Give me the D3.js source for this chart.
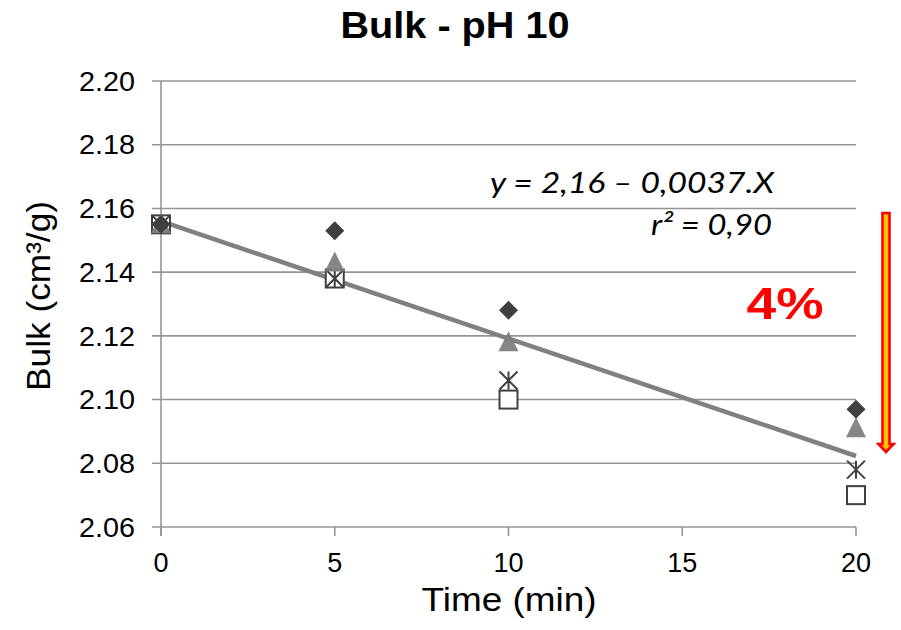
<!DOCTYPE html>
<html><head><meta charset="utf-8">
<script src="https://cdn.jsdelivr.net/npm/d3@7"></script>
<style>body{margin:0;background:#fff}svg{display:block}</style>
</head><body>
<svg id="c" width="901" height="630"></svg>
<script>
const times = [0, 5, 10, 20];
const seriesDiamond = [2.155, 2.153, 2.128, 2.097];
const seriesTriangle = [2.155, 2.143, 2.118, 2.091];
const seriesStar = [2.155, 2.138, 2.106, 2.078];
const seriesSquare = [2.155, 2.138, 2.100, 2.070];
const yTicks = [2.06, 2.08, 2.10, 2.12, 2.14, 2.16, 2.18, 2.20];
const xTicks = [0, 5, 10, 15, 20];
const titleText = "Bulk - pH 10";
const xLabel = "Time (min)";
const yLabel = "Bulk (cm³/g)";
const eqLine1 = "y = 2,16 – 0,0037.X";
const eqLine2 = "r² = 0,90";
const dropLabel = "4%";

const svg = d3.select("#c");
const L = 161, R = 856, T = 81, B = 527;
const x = d3.scaleLinear().domain([0, 20]).range([L, R]);
const y = d3.scaleLinear().domain([2.06, 2.20]).range([B, T]);
const grid = "#959595";
const sans = "Liberation Sans, Arial, sans-serif";

// gridlines
svg.append("g").selectAll("line").data(yTicks).join("line")
  .attr("x1", L - 9).attr("x2", R).attr("y1", d => y(d)).attr("y2", d => y(d))
  .attr("stroke", grid).attr("stroke-width", 1.6);
// y axis line
svg.append("line").attr("x1", L).attr("x2", L).attr("y1", T).attr("y2", B + 9)
  .attr("stroke", grid).attr("stroke-width", 1.6);
// x ticks
svg.append("g").selectAll("line").data(xTicks).join("line")
  .attr("x1", d => x(d)).attr("x2", d => x(d)).attr("y1", B).attr("y2", B + 9)
  .attr("stroke", grid).attr("stroke-width", 1.6);

// tick labels
svg.append("g").selectAll("text").data(yTicks).join("text")
  .attr("x", 135).attr("y", d => y(d)).attr("dy", "0.36em")
  .attr("text-anchor", "end").attr("font-family", sans)
  .attr("font-size", 27).attr("textLength", 56).attr("lengthAdjust", "spacingAndGlyphs")
  .attr("fill", "#000").text(d => d.toFixed(2));
svg.append("g").selectAll("text").data(xTicks).join("text")
  .attr("x", d => x(d)).attr("y", 572)
  .attr("text-anchor", "middle").attr("font-family", sans)
  .attr("font-size", 27).attr("fill", "#000").text(d => d);

// titles
svg.append("text").attr("x", 455).attr("y", 38).attr("text-anchor", "middle")
  .attr("font-family", sans).attr("font-weight", "bold")
  .attr("font-size", 37).attr("textLength", 229).attr("lengthAdjust", "spacingAndGlyphs").text(titleText);
svg.append("text").attr("x", 509).attr("y", 611).attr("text-anchor", "middle")
  .attr("font-family", sans)
  .attr("font-size", 33).attr("textLength", 175).attr("lengthAdjust", "spacingAndGlyphs").text(xLabel);
svg.append("text").attr("transform", "translate(50,296) rotate(-90)").attr("text-anchor", "middle")
  .attr("font-family", sans)
  .attr("font-size", 34).attr("textLength", 190).attr("lengthAdjust", "spacingAndGlyphs").text(yLabel);

// regression trendline from all points
const allPts = [];
[seriesDiamond, seriesTriangle, seriesStar, seriesSquare].forEach(s => s.forEach((v, i) => allPts.push([times[i], v])));
const mx = d3.mean(allPts, d => d[0]), my = d3.mean(allPts, d => d[1]);
const slope = d3.sum(allPts, d => (d[0] - mx) * (d[1] - my)) / d3.sum(allPts, d => (d[0] - mx) ** 2);
const icpt = my - slope * mx;
svg.append("line").attr("x1", x(0)).attr("y1", y(icpt)).attr("x2", x(20)).attr("y2", y(icpt + slope * 20))
  .attr("stroke", "#808080").attr("stroke-width", 4.5);

const dark = "#404040";
// squares
svg.append("g").selectAll("rect").data(seriesSquare).join("rect")
  .attr("x", (d, i) => x(times[i]) - 9).attr("y", d => y(d) - 9)
  .attr("width", 18).attr("height", 18).attr("fill", "#fff").attr("stroke", dark).attr("stroke-width", 2);
// stars (x + vertical)
svg.append("g").selectAll("path").data(seriesStar).join("path")
  .attr("d", (d, i) => {
    const cx = x(times[i]), cy = y(d), r = 9;
    return `M${cx - r},${cy - r}L${cx + r},${cy + r}M${cx - r},${cy + r}L${cx + r},${cy - r}M${cx},${cy - r}L${cx},${cy + r}`;
  }).attr("stroke", dark).attr("stroke-width", 2).attr("fill", "none");
// triangles
svg.append("g").selectAll("path").data(seriesTriangle).join("path")
  .attr("d", (d, i) => {
    const cx = x(times[i]), cy = y(d);
    return `M${cx},${cy - 11}L${cx + 10},${cy + 9}L${cx - 10},${cy + 9}Z`;
  }).attr("fill", "#808080").attr("fill-opacity", 0.95);
// diamonds
svg.append("g").selectAll("path").data(seriesDiamond).join("path")
  .attr("d", (d, i) => {
    const cx = x(times[i]), cy = y(d), r = 9.5;
    return `M${cx},${cy - r}L${cx + r},${cy}L${cx},${cy + r}L${cx - r},${cy}Z`;
  }).attr("fill", dark);

// equation
const eqFont = "Lato, 'Open Sans', sans-serif";
svg.append("text").attr("x", 774).attr("y", 193).attr("text-anchor", "end")
  .attr("font-family", eqFont).attr("font-style", "italic").attr("font-size", 29)
  .attr("textLength", 284).attr("lengthAdjust", "spacingAndGlyphs").text(eqLine1);
svg.append("text").attr("x", 772).attr("y", 235).attr("text-anchor", "end")
  .attr("font-family", eqFont).attr("font-style", "italic").attr("font-size", 29)
  .attr("textLength", 121).attr("lengthAdjust", "spacingAndGlyphs").text(eqLine2);

// 4%
svg.append("text").attr("x", 785).attr("y", 319).attr("text-anchor", "middle")
  .attr("font-family", sans).attr("font-weight", "bold")
  .attr("font-size", 44).attr("textLength", 77).attr("lengthAdjust", "spacingAndGlyphs")
  .attr("fill", "#ff0000").text(dropLabel);

// arrow
const ax = 886, aTop = 213, aBot = 452;
svg.append("path")
  .attr("d", `M${ax - 3.5},${aTop}L${ax + 3.5},${aTop}L${ax + 3.5},${aBot - 8}L${ax + 7.5},${aBot - 8}L${ax},${aBot}L${ax - 7.5},${aBot - 8}L${ax - 3.5},${aBot - 8}Z`)
  .attr("fill", "#ffc000").attr("stroke", "#ff0000").attr("stroke-width", 2.6);
</script>
</body></html>
